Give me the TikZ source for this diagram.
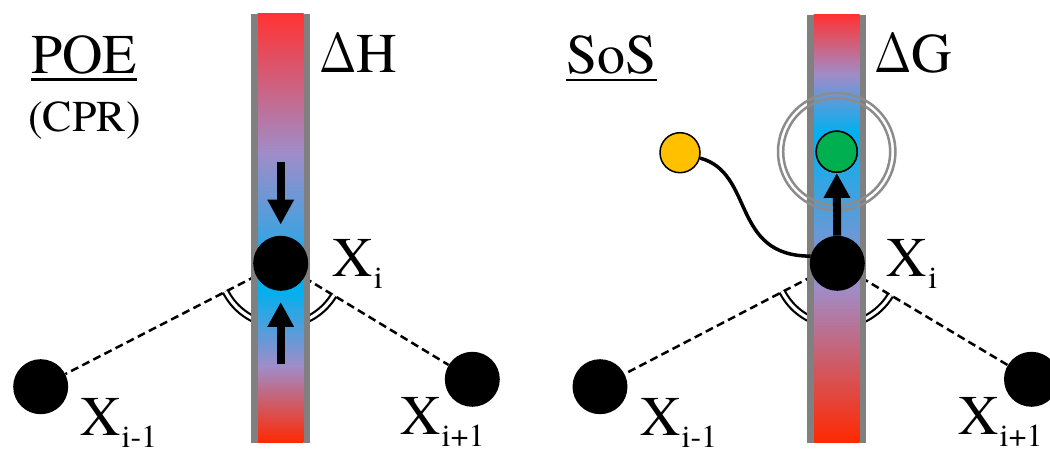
\documentclass[tikz,border=0pt]{standalone}
\usepackage{fontspec}
\setmainfont{texgyretermes-regular.otf}
\newfontfamily\timesface{texgyretermes-regular.otf}
\newfontfamily\greekface{lmroman10-regular.otf}
\usepackage{tikz}
\usetikzlibrary{arrows.meta,positioning,calc}

\definecolor{hotred}{RGB}{255,51,51}
\definecolor{hotredlow}{RGB}{255,40,0}
\definecolor{coolcyan}{RGB}{0,176,240}
\definecolor{lavender}{RGB}{160,140,200}
\definecolor{wallgray}{RGB}{128,128,128}
\definecolor{ringgray}{RGB}{140,140,140}
\definecolor{probegreen}{RGB}{0,176,80}
\definecolor{probeorange}{RGB}{255,192,0}

\newcommand{\bigfont}{\timesface\fontsize{56}{60}\selectfont}
\newcommand{\atomsub}[1]{\kern1pt\raisebox{-12pt}{\fontsize{32}{34}\selectfont #1}}
\newcommand{\bigdelta}{\scalebox{0.8}[1]{\greekface Δ}}

\tikzset{
  atom/.style={circle, fill=black, inner sep=0pt, minimum size=55pt},
  probe/.style={circle, draw=black, line width=1.5pt, inner sep=0pt, minimum size=40pt},
  bond/.style={line width=2.5pt, dash pattern=on 8pt off 4.5pt},
  anglearc/.style={line width=2.2pt, double=white, double distance=3.2pt},
  push/.style={line width=8pt, -{Triangle[width=25pt,length=25pt]}},
  wall/.style={line width=6.5pt, draw=wallgray},
  lbl/.style={inner sep=0pt, anchor=base west, font=\bigfont},
}

\begin{document}
\begin{tikzpicture}[x=1pt, y=1pt]
    \useasboundingbox (0,0) rectangle (1050,450);

    % POE panel ---------------------------------------------------------
    \node[atom] (xi1)  at (280.7,186.7) {};
    \node[atom] (xim1) at (40.7,63.3)   {};
    \node[atom] (xip1) at (472.3,70.7)  {};

    \draw[bond] (xi1) -- (xim1);
    \draw[bond] (xi1) -- (xip1);
    \draw[anglearc] ([shift=(207:62pt)]xi1.center) arc[start angle=207, end angle=329, radius=62pt];

    % bar: red - cyan - red
    \shade[top color=hotred, bottom color=coolcyan, middle color=lavender] (257.5,159.5) rectangle (303.5,436);
    \shade[top color=coolcyan, bottom color=hotredlow, middle color=lavender] (257.5,7) rectangle (303.5,160);
    \draw[wall] (254.25,7) -- (254.25,436);
    \draw[wall] (306.75,7) -- (306.75,436);

    \node[atom] at (xi1) {};
    \draw[push] ([yshift=101pt]xi1.center) -- ([yshift=11pt]xi1.north);
    \draw[push] ([yshift=-101pt]xi1.center) -- ([yshift=-11pt]xi1.south);

    \node[lbl] (poe) at (31,376.7) {POE};
    \draw[line width=2.5pt] ([yshift=-6.2pt]poe.base west) -- ([yshift=-6.2pt]poe.base east);
    \node[lbl, font=\timesface\fontsize{44}{48}\selectfont] (cpr) at (28,318.3) {(CPR)};
    \node[lbl] (dh) at (319,377) {\bigdelta H};
    \node[lbl] (xi1lbl)  at ($(xi1)+(51.5,-13.7)$)  {X\atomsub{i}};
    \node[lbl] (xim1lbl) at ($(xim1)+(39.3,-48.5)$) {X\atomsub{i-1}};
    \node[lbl] (xip1lbl) at ($(xip1)+(-72.3,-55.6)$) {X\atomsub{i+1}};

    % SoS panel ---------------------------------------------------------
    \node[atom] (xi2)  at (837.3,186.7) {};
    \node[atom] (xim2) at (600,63.3)    {};
    \node[atom] (xip2) at (1031.5,70.7) {};

    \draw[bond] (xi2) -- (xim2);
    \draw[bond] (xi2) -- (xip2);
    \draw[anglearc] ([shift=(207:62pt)]xi2.center) arc[start angle=207, end angle=329, radius=62pt];

    % bar: red - cyan - red, cyan higher up
    \shade[top color=hotred, bottom color=coolcyan, middle color=lavender] (813.5,316.5) rectangle (859.5,435);
    \shade[top color=coolcyan, bottom color=hotredlow, middle color=lavender] (813.5,7) rectangle (859.5,317);
    \draw[wall] (810.25,7) -- (810.25,435);
    \draw[wall] (862.75,7) -- (862.75,435);

    \node[probe, fill=probegreen, minimum size=41pt] (green) at (836.7,298.3) {};
    \draw[ringgray, line width=2.5pt] (green.center) circle[radius=58.7pt]
                                      (green.center) circle[radius=53.5pt];
    \node[probe, fill=probegreen, minimum size=41pt] at (green) {};
    \node[probe, fill=probeorange] (orange) at (680,297.3) {};

    \node[atom] at (xi2) {};
    \draw[push] (xi2) -- (green);
    \draw[line width=3.5pt] (orange.-15) .. controls +(55,-15) and +(-80,0) .. (xi2.165);

    \node[lbl] (sos) at (566,376.7) {SoS};
    \draw[line width=2.5pt] ([yshift=-6.7pt]sos.base west) -- ([yshift=-6.7pt]sos.base east);
    \node[lbl] (dg) at (874,377) {\bigdelta G};
    \node[lbl] (xi2lbl)  at ($(xi2)+(49.4,-13.4)$)  {X\atomsub{i}};
    \node[lbl] (xim2lbl) at ($(xim2)+(40,-48.5)$)   {X\atomsub{i-1}};
    \node[lbl] (xip2lbl) at ($(xip2)+(-73.5,-55.6)$) {X\atomsub{i+1}};
\end{tikzpicture}
\end{document}
